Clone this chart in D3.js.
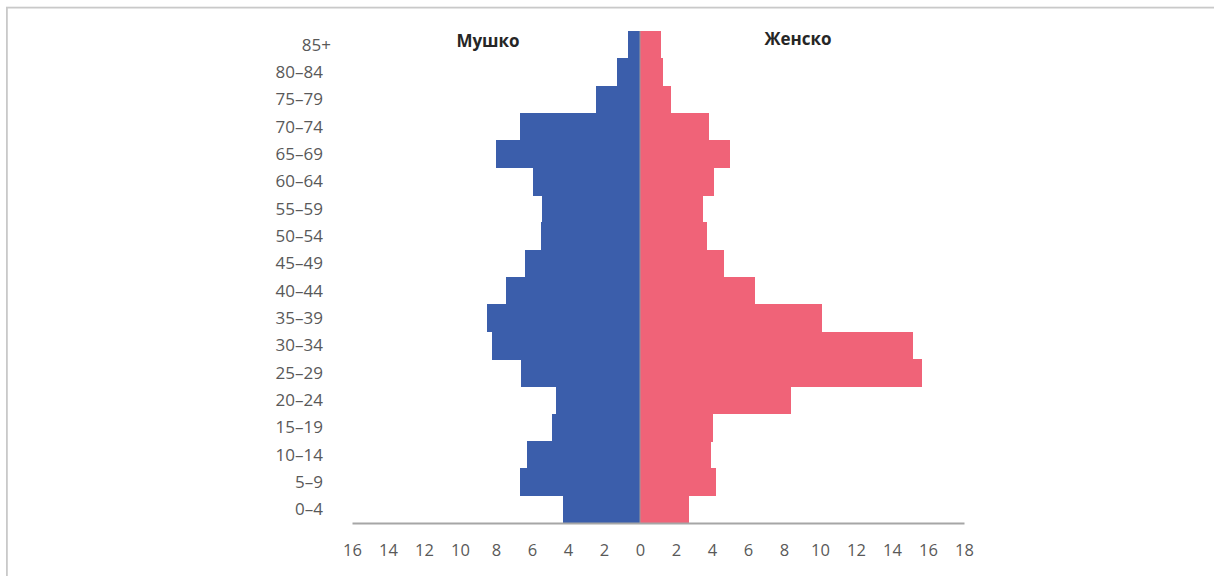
<!DOCTYPE html>
<html>
<head>
<meta charset="utf-8">
<script src="https://cdn.jsdelivr.net/npm/d3@7"></script>
<style>
  html, body { margin: 0; padding: 0; background: #ffffff; }
  svg { display: block; }
  text { font-family: "Open Sans", "Liberation Sans", sans-serif; }
</style>
</head>
<body>
<svg id="chart" width="1214" height="576"></svg>
<script>
const ageGroups = ["0–4", "5–9", "10–14", "15–19", "20–24", "25–29", "30–34", "35–39", "40–44",
                   "45–49", "50–54", "55–59", "60–64", "65–69", "70–74", "75–79", "80–84", "85+"];
const maleValues = [4.28, 6.69, 6.30, 4.91, 4.67, 6.61, 8.24, 8.52, 7.46,
                    6.39, 5.48, 5.43, 5.93, 8.02, 6.67, 2.44, 1.26, 0.68];
const femaleValues = [2.72, 4.24, 3.96, 4.07, 8.37, 15.69, 15.15, 10.13, 6.41,
                      4.67, 3.74, 3.52, 4.11, 5.00, 3.85, 1.74, 1.30, 1.17];
const tickValues = [-16, -14, -12, -10, -8, -6, -4, -2, 0, 2, 4, 6, 8, 10, 12, 14, 16, 18];
const seriesNames = ["Мушко", "Женско"];

const svg = d3.select("#chart");

// outer frame
svg.append("rect")
  .attr("x", 6.9).attr("y", 7.6)
  .attr("width", 1230).attr("height", 600)
  .attr("fill", "none").attr("stroke", "#c9c9c9").attr("stroke-width", 1.8);

const x = d3.scaleLinear().domain([-16, 18]).range([352, 964]);
const y = d3.scaleBand().domain(ageGroups.slice().reverse()).range([31, 523]).padding(0);

const rows = ageGroups.map((g, i) => ({ g, m: maleValues[i], f: femaleValues[i] }));

// male bars
svg.append("g").attr("shape-rendering", "crispEdges")
  .selectAll("rect").data(rows).join("rect")
  .attr("x", d => x(-d.m))
  .attr("y", d => y(d.g))
  .attr("width", d => x(0) - x(-d.m))
  .attr("height", y.bandwidth() + 0.6)
  .attr("fill", "#3B5EAB");

// female bars
svg.append("g").attr("shape-rendering", "crispEdges")
  .selectAll("rect").data(rows).join("rect")
  .attr("x", x(0))
  .attr("y", d => y(d.g))
  .attr("width", d => x(d.f) - x(0))
  .attr("height", y.bandwidth() + 0.6)
  .attr("fill", "#F06378");

// vertical category axis line
svg.append("line")
  .attr("x1", x(0)).attr("x2", x(0))
  .attr("y1", y.range()[0]).attr("y2", y.range()[1])
  .attr("stroke", "#9a9a9a").attr("stroke-width", 1);

// category labels
svg.append("g").selectAll("text").data(ageGroups).join("text")
  .attr("x", d => d === "85+" ? 331 : 323)
  .attr("y", d => y(d) + y.bandwidth() / 2)
  .attr("dy", "0.36em")
  .attr("text-anchor", "end")
  .attr("font-size", "17px")
  .attr("fill", "#595959")
  .text(d => d);

// bottom axis
const axis = d3.axisBottom(x)
  .tickValues(tickValues)
  .tickFormat(d => Math.abs(d))
  .tickSize(0)
  .tickPadding(21);
const gx = svg.append("g").attr("transform", "translate(0,523)").call(axis);
gx.select(".domain").attr("stroke", "#a6a6a6").attr("stroke-width", 1.8);
gx.selectAll("text")
  .attr("font-size", "16.5px")
  .attr("fill", "#595959")
  .style("font-family", "'Open Sans', sans-serif");

// series titles
svg.append("text")
  .attr("x", 488).attr("y", 47)
  .attr("text-anchor", "middle")
  .attr("font-size", "17px").attr("font-weight", "bold")
  .attr("fill", "#262626")
  .text(seriesNames[0]);
svg.append("text")
  .attr("x", 798).attr("y", 45)
  .attr("text-anchor", "middle")
  .attr("font-size", "17px").attr("font-weight", "bold")
  .attr("fill", "#262626")
  .text(seriesNames[1]);
</script>
</body>
</html>
